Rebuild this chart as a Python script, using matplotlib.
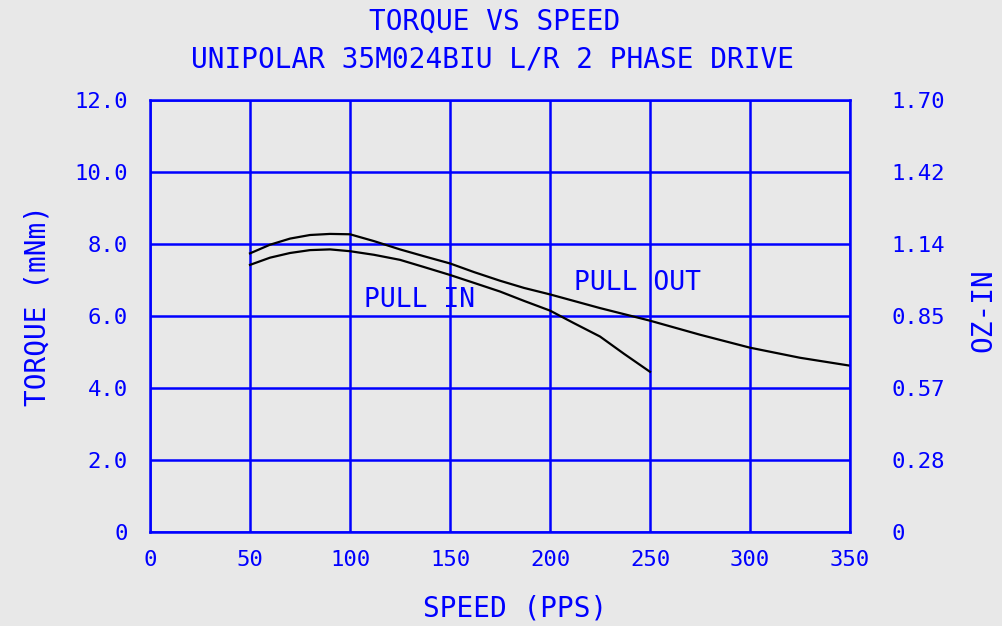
import matplotlib
matplotlib.use("Agg")
import matplotlib.pyplot as plt

# Data
pull_out_speed = [50, 60, 70, 80, 90, 100, 112, 125, 137, 150, 162, 175, 187, 200, 225, 250, 275, 300, 325, 350]
pull_out_torque = [7.74, 7.98, 8.15, 8.25, 8.28, 8.27, 8.08, 7.85, 7.66, 7.46, 7.22, 6.98, 6.78, 6.60, 6.22, 5.87, 5.48, 5.12, 4.84, 4.62]

pull_in_speed = [50, 60, 70, 80, 90, 100, 112, 125, 137, 150, 162, 175, 187, 200, 212, 225, 237, 250]
pull_in_torque = [7.42, 7.62, 7.75, 7.83, 7.85, 7.80, 7.70, 7.56, 7.36, 7.14, 6.92, 6.68, 6.42, 6.15, 5.80, 5.43, 4.95, 4.45]

x_ticks = [0, 50, 100, 150, 200, 250, 300, 350]
y_ticks = [0, 2, 4, 6, 8, 10, 12]
y_tick_labels = ["0", "2.0", "4.0", "6.0", "8.0", "10.0", "12.0"]
oz_tick_labels = ["0", "0.28", "0.57", "0.85", "1.14", "1.42", "1.70"]

BG = "#e8e8e8"
BLUE = "#0000ff"
FONT = "DejaVu Sans Mono"

fig = plt.figure(figsize=(10.03, 6.26), dpi=100, facecolor=BG)
ax = fig.add_axes([150/1003, 1-532/626, 700/1003, 432/626])
ax.set_facecolor(BG)

ax.plot(pull_out_speed, pull_out_torque, color="black", lw=1.6)
ax.plot(pull_in_speed, pull_in_torque, color="black", lw=1.6)

ax.set_xlim(0, 350)
ax.set_ylim(0, 12)
ax.set_xticks(x_ticks)
ax.set_yticks(y_ticks)
ax.set_xticklabels([str(v) for v in x_ticks], fontfamily=FONT, fontsize=16, color=BLUE)
ax.set_yticklabels(y_tick_labels, fontfamily=FONT, fontsize=16, color=BLUE)
ax.tick_params(axis="x", length=0, pad=13)
ax.tick_params(axis="y", length=0, pad=16)
ax.grid(True, color=BLUE, lw=1.8)
for s in ax.spines.values():
    s.set_color(BLUE)
    s.set_linewidth(1.8)

ax2 = ax.twinx()
ax2.set_ylim(0, 12)
ax2.set_yticks(y_ticks)
ax2.set_yticklabels(oz_tick_labels, fontfamily=FONT, fontsize=16, color=BLUE)
ax2.tick_params(axis="y", length=0, pad=30)
for s in ax2.spines.values():
    s.set_visible(False)

ax.text(107, 6.44, "PULL IN", fontfamily=FONT, fontsize=19, color=BLUE, va="center", ha="left")
ax.text(212, 6.92, "PULL OUT", fontfamily=FONT, fontsize=19, color=BLUE, va="center", ha="left")

fig.text(495/1003, 1-22/626, "TORQUE VS SPEED", fontfamily=FONT, fontsize=20, color=BLUE, ha="center", va="center")
fig.text(493/1003, 1-60/626, "UNIPOLAR 35M024BIU L/R 2 PHASE DRIVE", fontfamily=FONT, fontsize=20, color=BLUE, ha="center", va="center")
fig.text(515/1003, 1-608/626, "SPEED (PPS)", fontfamily=FONT, fontsize=20, color=BLUE, ha="center", va="center")
fig.text(38/1003, 1-305/626, "TORQUE (mNm)", fontfamily=FONT, fontsize=20, color=BLUE, ha="center", va="center", rotation=90)
fig.text(983/1003, 1-310/626, "OZ-IN", fontfamily=FONT, fontsize=20, color=BLUE, ha="center", va="center", rotation=90)

fig.savefig("out.png", dpi=100, facecolor=BG)
